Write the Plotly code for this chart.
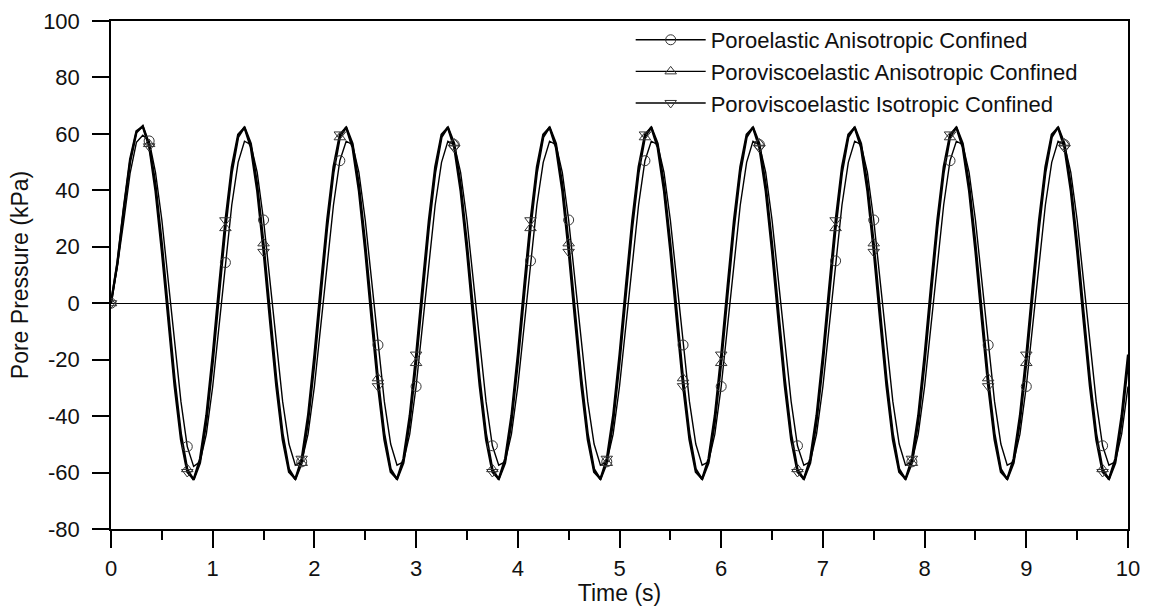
import plotly.graph_objects as go

# Time samples (s), 1/16 s apart
time_s = [
    0.0000, 0.0625, 0.1250, 0.1875, 0.2500, 0.3125, 0.3750, 0.4375,
    0.5000, 0.5625, 0.6250, 0.6875, 0.7500, 0.8125, 0.8750, 0.9375,
    1.0000, 1.0625, 1.1250, 1.1875, 1.2500, 1.3125, 1.3750, 1.4375,
    1.5000, 1.5625, 1.6250, 1.6875, 1.7500, 1.8125, 1.8750, 1.9375,
    2.0000, 2.0625, 2.1250, 2.1875, 2.2500, 2.3125, 2.3750, 2.4375,
    2.5000, 2.5625, 2.6250, 2.6875, 2.7500, 2.8125, 2.8750, 2.9375,
    3.0000, 3.0625, 3.1250, 3.1875, 3.2500, 3.3125, 3.3750, 3.4375,
    3.5000, 3.5625, 3.6250, 3.6875, 3.7500, 3.8125, 3.8750, 3.9375,
    4.0000, 4.0625, 4.1250, 4.1875, 4.2500, 4.3125, 4.3750, 4.4375,
    4.5000, 4.5625, 4.6250, 4.6875, 4.7500, 4.8125, 4.8750, 4.9375,
    5.0000, 5.0625, 5.1250, 5.1875, 5.2500, 5.3125, 5.3750, 5.4375,
    5.5000, 5.5625, 5.6250, 5.6875, 5.7500, 5.8125, 5.8750, 5.9375,
    6.0000, 6.0625, 6.1250, 6.1875, 6.2500, 6.3125, 6.3750, 6.4375,
    6.5000, 6.5625, 6.6250, 6.6875, 6.7500, 6.8125, 6.8750, 6.9375,
    7.0000, 7.0625, 7.1250, 7.1875, 7.2500, 7.3125, 7.3750, 7.4375,
    7.5000, 7.5625, 7.6250, 7.6875, 7.7500, 7.8125, 7.8750, 7.9375,
    8.0000, 8.0625, 8.1250, 8.1875, 8.2500, 8.3125, 8.3750, 8.4375,
    8.5000, 8.5625, 8.6250, 8.6875, 8.7500, 8.8125, 8.8750, 8.9375,
    9.0000, 9.0625, 9.1250, 9.1875, 9.2500, 9.3125, 9.3750, 9.4375,
    9.5000, 9.5625, 9.6250, 9.6875, 9.7500, 9.8125, 9.8750, 9.9375,
    10.0000,
]

# Pore pressure (kPa)
poroelastic_aniso = [
    0.0, 13.0, 29.0, 46.0, 57.0, 59.5, 57.5, 46.4, 29.5, 8.2, -14.4, -34.8, -50.8, -57.8, -56.2, -46.4,
    -29.5, -8.2, 14.4, 34.8, 49.9, 57.4, 56.2, 46.4, 29.5, 8.2, -14.4, -34.8, -49.9, -57.4, -56.2, -46.4,
    -29.5, -8.2, 14.4, 34.8, 50.5, 57.4, 56.2, 46.4, 29.5, 8.2, -14.8, -34.8, -49.9, -57.4, -56.2, -46.4,
    -29.5, -8.2, 14.4, 34.8, 49.9, 57.4, 56.2, 46.4, 29.5, 8.2, -14.4, -34.8, -50.5, -57.4, -56.2, -46.4,
    -29.5, -8.2, 15.0, 34.8, 49.9, 57.4, 56.2, 46.4, 29.5, 8.2, -14.4, -34.8, -49.9, -57.4, -56.2, -46.4,
    -29.5, -8.2, 14.4, 34.8, 50.5, 57.4, 56.2, 46.4, 29.5, 8.2, -14.8, -34.8, -49.9, -57.4, -56.2, -46.4,
    -29.5, -8.2, 14.4, 34.8, 49.9, 57.4, 56.2, 46.4, 29.5, 8.2, -14.4, -34.8, -50.5, -57.4, -56.2, -46.4,
    -29.5, -8.2, 15.0, 34.8, 49.9, 57.4, 56.2, 46.4, 29.5, 8.2, -14.4, -34.8, -49.9, -57.4, -56.2, -46.4,
    -29.5, -8.2, 14.4, 34.8, 50.5, 57.4, 56.2, 46.4, 29.5, 8.2, -14.8, -34.8, -49.9, -57.4, -56.2, -46.4,
    -29.5, -8.2, 14.4, 34.8, 49.9, 57.4, 56.2, 46.4, 29.5, 8.2, -14.4, -34.8, -50.5, -57.4, -56.2, -46.4,
    -29.5,
]

poroviscoelastic_aniso = [
    0.0, 14.0, 33.0, 50.0, 60.5, 62.8, 56.4, 42.1, 21.2, -2.9, -26.6, -46.2, -58.8, -62.6, -56.6, -42.1,
    -21.2, 2.9, 26.6, 46.2, 58.8, 62.4, 56.6, 42.1, 21.2, -2.9, -26.6, -46.2, -58.8, -62.4, -56.6, -42.1,
    -21.2, 2.9, 26.6, 46.2, 58.8, 62.4, 56.6, 42.1, 21.2, -2.9, -26.6, -46.2, -58.8, -62.4, -56.6, -42.1,
    -21.2, 2.9, 26.6, 46.2, 58.8, 62.4, 56.6, 42.1, 21.2, -2.9, -26.6, -46.2, -58.8, -62.4, -56.6, -42.1,
    -21.2, 2.9, 26.6, 46.2, 58.8, 62.4, 56.6, 42.1, 21.2, -2.9, -26.6, -46.2, -58.8, -62.4, -56.6, -42.1,
    -21.2, 2.9, 26.6, 46.2, 58.8, 62.4, 56.6, 42.1, 21.2, -2.9, -26.6, -46.2, -58.8, -62.4, -56.6, -42.1,
    -21.2, 2.9, 26.6, 46.2, 58.8, 62.4, 56.6, 42.1, 21.2, -2.9, -26.6, -46.2, -58.8, -62.4, -56.6, -42.1,
    -21.2, 2.9, 26.6, 46.2, 58.8, 62.4, 56.6, 42.1, 21.2, -2.9, -26.6, -46.2, -58.8, -62.4, -56.6, -42.1,
    -21.2, 2.9, 26.6, 46.2, 58.8, 62.4, 56.6, 42.1, 21.2, -2.9, -26.6, -46.2, -58.8, -62.4, -56.6, -42.1,
    -21.2, 2.9, 26.6, 46.2, 58.8, 62.4, 56.6, 42.1, 21.2, -2.9, -26.6, -46.2, -58.8, -62.4, -56.6, -42.1,
    -21.2,
]

poroviscoelastic_iso = [
    0.0, 14.5, 33.5, 51.0, 61.0, 62.6, 55.6, 39.7, 18.2, -6.1, -29.4, -48.3, -59.8, -62.4, -55.1, -39.7,
    -18.2, 6.1, 29.4, 48.3, 59.8, 62.2, 55.1, 39.7, 18.2, -6.1, -29.4, -48.3, -59.8, -62.2, -55.1, -39.7,
    -18.2, 6.1, 29.4, 48.3, 59.8, 62.2, 55.1, 39.7, 18.2, -6.1, -29.4, -48.3, -59.8, -62.2, -55.1, -39.7,
    -18.2, 6.1, 29.4, 48.3, 59.8, 62.2, 55.1, 39.7, 18.2, -6.1, -29.4, -48.3, -59.8, -62.2, -55.1, -39.7,
    -18.2, 6.1, 29.4, 48.3, 59.8, 62.2, 55.1, 39.7, 18.2, -6.1, -29.4, -48.3, -59.8, -62.2, -55.1, -39.7,
    -18.2, 6.1, 29.4, 48.3, 59.8, 62.2, 55.1, 39.7, 18.2, -6.1, -29.4, -48.3, -59.8, -62.2, -55.1, -39.7,
    -18.2, 6.1, 29.4, 48.3, 59.8, 62.2, 55.1, 39.7, 18.2, -6.1, -29.4, -48.3, -59.8, -62.2, -55.1, -39.7,
    -18.2, 6.1, 29.4, 48.3, 59.8, 62.2, 55.1, 39.7, 18.2, -6.1, -29.4, -48.3, -59.8, -62.2, -55.1, -39.7,
    -18.2, 6.1, 29.4, 48.3, 59.8, 62.2, 55.1, 39.7, 18.2, -6.1, -29.4, -48.3, -59.8, -62.2, -55.1, -39.7,
    -18.2, 6.1, 29.4, 48.3, 59.8, 62.2, 55.1, 39.7, 18.2, -6.1, -29.4, -48.3, -59.8, -62.2, -55.1, -39.7,
    -18.2,
]

series_names = [
    "Poroelastic Anisotropic Confined",
    "Poroviscoelastic Anisotropic Confined",
    "Poroviscoelastic Isotropic Confined",
]

x_ticks = [0, 1, 2, 3, 4, 5, 6, 7, 8, 9, 10]
x_minor_ticks = [0.5, 1.5, 2.5, 3.5, 4.5, 5.5, 6.5, 7.5, 8.5, 9.5]
y_ticks = [-80, -60, -40, -20, 0, 20, 40, 60, 80, 100]

FONT = "Liberation Sans, Arial, sans-serif"
MARK_STEP = 6  # a marker every sixth sample (0.375 s)

styles = [
    (poroelastic_aniso, "circle-open", 1.4),
    (poroviscoelastic_aniso, "triangle-up-open", 2.2),
    (poroviscoelastic_iso, "triangle-down-open", 2.2),
]

fig = go.Figure()

for vals, sym, w in styles:
    fig.add_trace(go.Scatter(
        x=time_s, y=vals, mode="lines",
        line=dict(color="black", width=w),
        showlegend=False, hoverinfo="skip",
    ))

for vals, sym, w in styles:
    fig.add_trace(go.Scatter(
        x=time_s[::MARK_STEP], y=vals[::MARK_STEP], mode="markers",
        marker=dict(symbol=sym, size=10, color="#333333",
                    line=dict(width=1, color="#333333")),
        showlegend=False, hoverinfo="skip",
    ))

for i, (name, (vals, sym, w)) in enumerate(zip(series_names, styles)):
    fig.add_trace(go.Scatter(
        x=[None], y=[None], mode="lines+markers", name=name,
        legendgroup=f"g{i}",
        line=dict(color="black", width=1.4),
        marker=dict(symbol=sym, size=10, color="#333333",
                    line=dict(width=1, color="#333333")),
    ))

axis_common = dict(
    showline=True, linecolor="black", linewidth=1.5, mirror=True,
    ticks="outside", ticklen=17, tickwidth=1.5, tickcolor="black",
    showgrid=False, automargin=False,
    tickfont=dict(family=FONT, size=22, color="#111111"),
    title_font=dict(family=FONT, size=23, color="#111111"),
)

fig.update_xaxes(
    range=[0, 10], tickvals=x_ticks, ticktext=[str(v) for v in x_ticks],
    zeroline=False,
    minor=dict(tickvals=x_minor_ticks, ticks="outside", ticklen=9,
               tickwidth=1.5, tickcolor="black"),
    title=dict(text="Time (s)", standoff=2),
    ticklabelstandoff=2,
    **axis_common,
)
fig.update_yaxes(
    range=[-80, 100], tickvals=y_ticks, ticktext=[str(v) for v in y_ticks],
    zeroline=True, zerolinecolor="black", zerolinewidth=1.4,
    title=dict(text="Pore Pressure (kPa)", standoff=8),
    ticklabelstandoff=8,
    **axis_common,
)

fig.update_layout(
    width=1151, height=606,
    margin=dict(l=111, r=23, t=21, b=77),
    paper_bgcolor="white", plot_bgcolor="white",
    font=dict(family=FONT, size=22, color="#111111"),
    showlegend=True,
    legend=dict(
        x=0.511, y=1.004, xanchor="left", yanchor="top",
        bgcolor="rgba(0,0,0,0)", borderwidth=0,
        font=dict(family=FONT, size=22, color="#111111"),
        itemwidth=70, tracegroupgap=0, traceorder="grouped",
    ),
)

fig.write_html("out.html")
